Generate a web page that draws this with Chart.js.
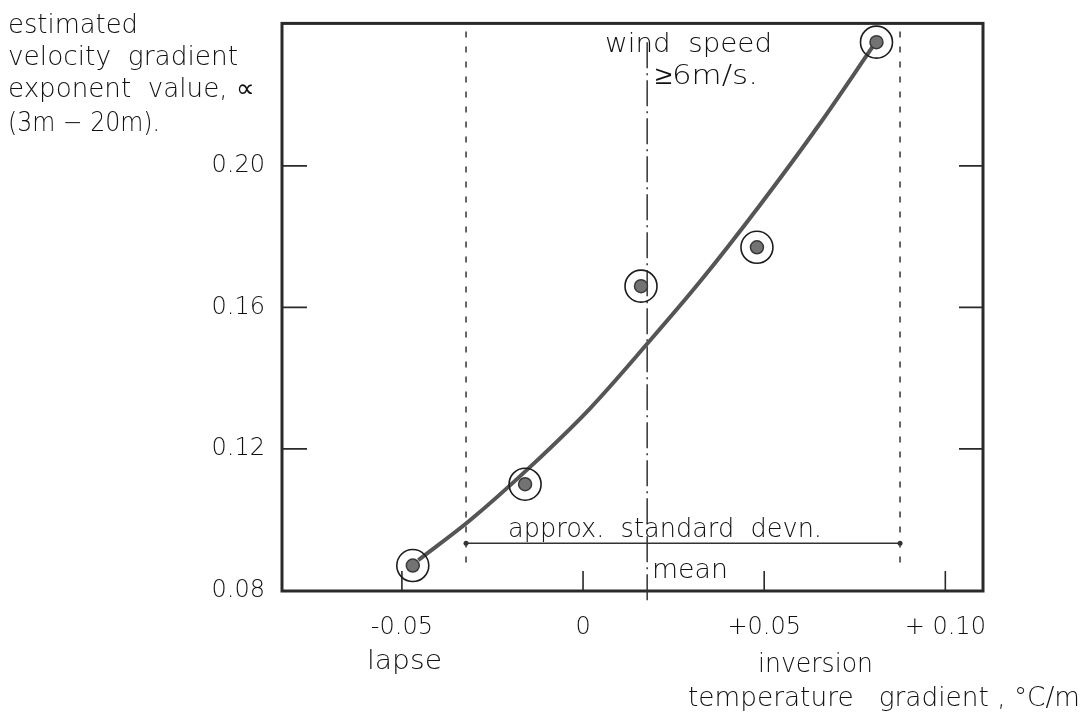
<!DOCTYPE html>
<html>
<head>
<meta charset="utf-8">
<script src="https://cdn.jsdelivr.net/npm/chart.js@4.4.1/dist/chart.umd.min.js"></script>
<style>
  html, body { margin: 0; padding: 0; background: #fff; }
  #wrap { position: relative; width: 1085px; height: 722px; }
</style>
</head>
<body>
<div id="wrap"><canvas id="chart"></canvas></div>
<script>
// observed points, wind speed >= 6 m/s
const tempGradient = [-0.047, -0.016, 0.016, 0.048, 0.081];
const alphaValue = [0.087, 0.110, 0.166, 0.177, 0.235];

// hand fitted curve
const curveX = [-0.0455, -0.0312, -0.0146, 0.0019, 0.0177, 0.0323, 0.0488, 0.0654, 0.0800];
const curveY = [0.0885, 0.0998, 0.1149, 0.1314, 0.1497, 0.1673, 0.1889, 0.2120, 0.2338];

// mean and approx. standard deviation
const meanGradient = 0.0177;
const meanLineSpan = [0.235, 0.0765];
const devnEdges = [-0.0323, 0.0875];
const devnEdgeSpan = [0.238, 0.087];
const devnLevel = 0.0933;

const xTickValues = [-0.05, 0, 0.05, 0.10];
const xTickLabels = ['-0.05', '0', '+0.05', '+ 0.10'];
const yTickValues = [0.08, 0.12, 0.16, 0.20];
const yTickLabels = ['0.08', '0.12', '0.16', '0.20'];

const FONT = '"DejaVu Sans", "Noto Sans", sans-serif';
const INK = '#111';

const points = tempGradient.map((v, i) => ({ x: v, y: alphaValue[i] }));
const curve = curveX.map((v, i) => ({ x: v, y: curveY[i] }));

function vline(xv, span) {
  return [{ x: xv, y: span[0] }, { x: xv, y: span[1] }];
}

// draws a string stretched horizontally to a given width
function label(ctx, text, x, y, width) {
  const w = ctx.measureText(text).width;
  ctx.save();
  ctx.translate(x, y);
  ctx.scale(width ? width / w : 1, 1);
  ctx.fillText(text, 0, 0);
  ctx.restore();
}

const frameAndNotes = {
  id: 'frameAndNotes',
  beforeDatasetsDraw(chart) {
    const { ctx, chartArea: a, scales: { x, y } } = chart;
    ctx.save();
    ctx.strokeStyle = '#2a2a2a';
    ctx.lineWidth = 1.6;
    ctx.beginPath();
    yTickValues.slice(1).forEach(v => {
      const py = y.getPixelForValue(v);
      ctx.moveTo(a.left, py); ctx.lineTo(a.left + 25, py);
      ctx.moveTo(a.right - 24, py); ctx.lineTo(a.right, py);
    });
    xTickValues.forEach(v => {
      const px = x.getPixelForValue(v);
      ctx.moveTo(px, a.bottom); ctx.lineTo(px, a.bottom - 20);
    });
    ctx.stroke();
    ctx.lineWidth = 3;
    ctx.strokeRect(a.left, a.top, a.right - a.left, a.bottom - a.top);
    ctx.restore();
  },
  afterDraw(chart) {
    const ctx = chart.ctx;
    ctx.save();
    ctx.fillStyle = INK;
    ctx.textBaseline = 'alphabetic';
    ctx.textAlign = 'left';
    ctx.font = '200 26px ' + FONT;
    // axis titles
    label(ctx, 'estimated', 8, 33, 130);
    label(ctx, 'velocity  gradient', 8, 65, 230);
    label(ctx, 'exponent  value, \u221D', 8, 97, 247);
    label(ctx, '(3m \u2212 20m).', 8, 131, 152);
    label(ctx, 'lapse', 367, 669, 75);
    label(ctx, 'inversion', 758, 672, 115);
    label(ctx, 'temperature   gradient , \u00B0C/m', 688, 706, 392);
    // notes inside the frame
    label(ctx, 'wind  speed', 605, 52, 167);
    label(ctx, '\u22656m/s.', 655, 84, 103);
    label(ctx, 'approx.  standard  devn.', 508, 537, 314);
    label(ctx, 'mean', 652, 578, 76);
    ctx.restore();
  }
};

new Chart(document.getElementById('chart'), {
  type: 'scatter',
  data: {
    datasets: [
      {
        label: 'observed',
        data: points,
        pointRadius: 16,
        pointBackgroundColor: 'rgba(0,0,0,0)',
        pointBorderColor: '#1c1c1c',
        pointBorderWidth: 1.6
      },
      {
        label: 'observed core',
        data: points,
        pointRadius: 6.5,
        pointBackgroundColor: '#737373',
        pointBorderColor: '#3a3a3a',
        pointBorderWidth: 1.5
      },
      {
        label: 'fit',
        data: curve,
        showLine: true,
        pointRadius: 0,
        borderColor: '#555',
        borderWidth: 4,
        cubicInterpolationMode: 'monotone'
      },
      {
        label: 'devn',
        data: [{ x: devnEdges[0], y: devnLevel }, { x: devnEdges[1], y: devnLevel }],
        showLine: true,
        borderColor: '#333',
        borderWidth: 1.3,
        pointRadius: 2.5,
        pointBackgroundColor: '#333',
        pointBorderWidth: 0
      },
      {
        label: 'mean',
        data: vline(meanGradient, meanLineSpan),
        showLine: true,
        pointRadius: 0,
        borderColor: '#333',
        borderWidth: 1.5,
        borderDash: [26, 5, 2, 5],
        clip: false
      },
      {
        label: 'devn low',
        data: vline(devnEdges[0], devnEdgeSpan),
        showLine: true,
        pointRadius: 0,
        borderColor: '#333',
        borderWidth: 1.5,
        borderDash: [6, 9]
      },
      {
        label: 'devn high',
        data: vline(devnEdges[1], devnEdgeSpan),
        showLine: true,
        pointRadius: 0,
        borderColor: '#333',
        borderWidth: 1.5,
        borderDash: [6, 9]
      }
    ]
  },
  options: {
    responsive: true,
    maintainAspectRatio: false,
    animation: false,
    layout: { padding: { left: 0, top: 22, right: 102, bottom: 0 } },
    plugins: { legend: { display: false }, tooltip: { enabled: false } },
    scales: {
      x: {
        type: 'linear',
        min: -0.0831,
        max: 0.1104,
        afterBuildTicks: s => { s.ticks = xTickValues.map(v => ({ value: v })); },
        afterFit: s => { s.height = 131; },
        grid: { display: false },
        border: { display: false },
        ticks: {
          callback: (v, i) => xTickLabels[i],
          font: { family: FONT, size: 24, weight: '200' },
          color: INK,
          padding: 14,
          maxRotation: 0,
          autoSkip: false
        }
      },
      y: {
        type: 'linear',
        min: 0.0798,
        max: 0.2403,
        afterBuildTicks: s => { s.ticks = yTickValues.map(v => ({ value: v })); },
        afterFit: s => { s.width = 282; },
        grid: { display: false },
        border: { display: false },
        ticks: {
          callback: (v, i) => yTickLabels[i],
          font: { family: FONT, size: 24, weight: '200' },
          color: INK,
          padding: 9,
          autoSkip: false
        }
      }
    }
  },
  plugins: [frameAndNotes]
});
</script>
</body>
</html>
